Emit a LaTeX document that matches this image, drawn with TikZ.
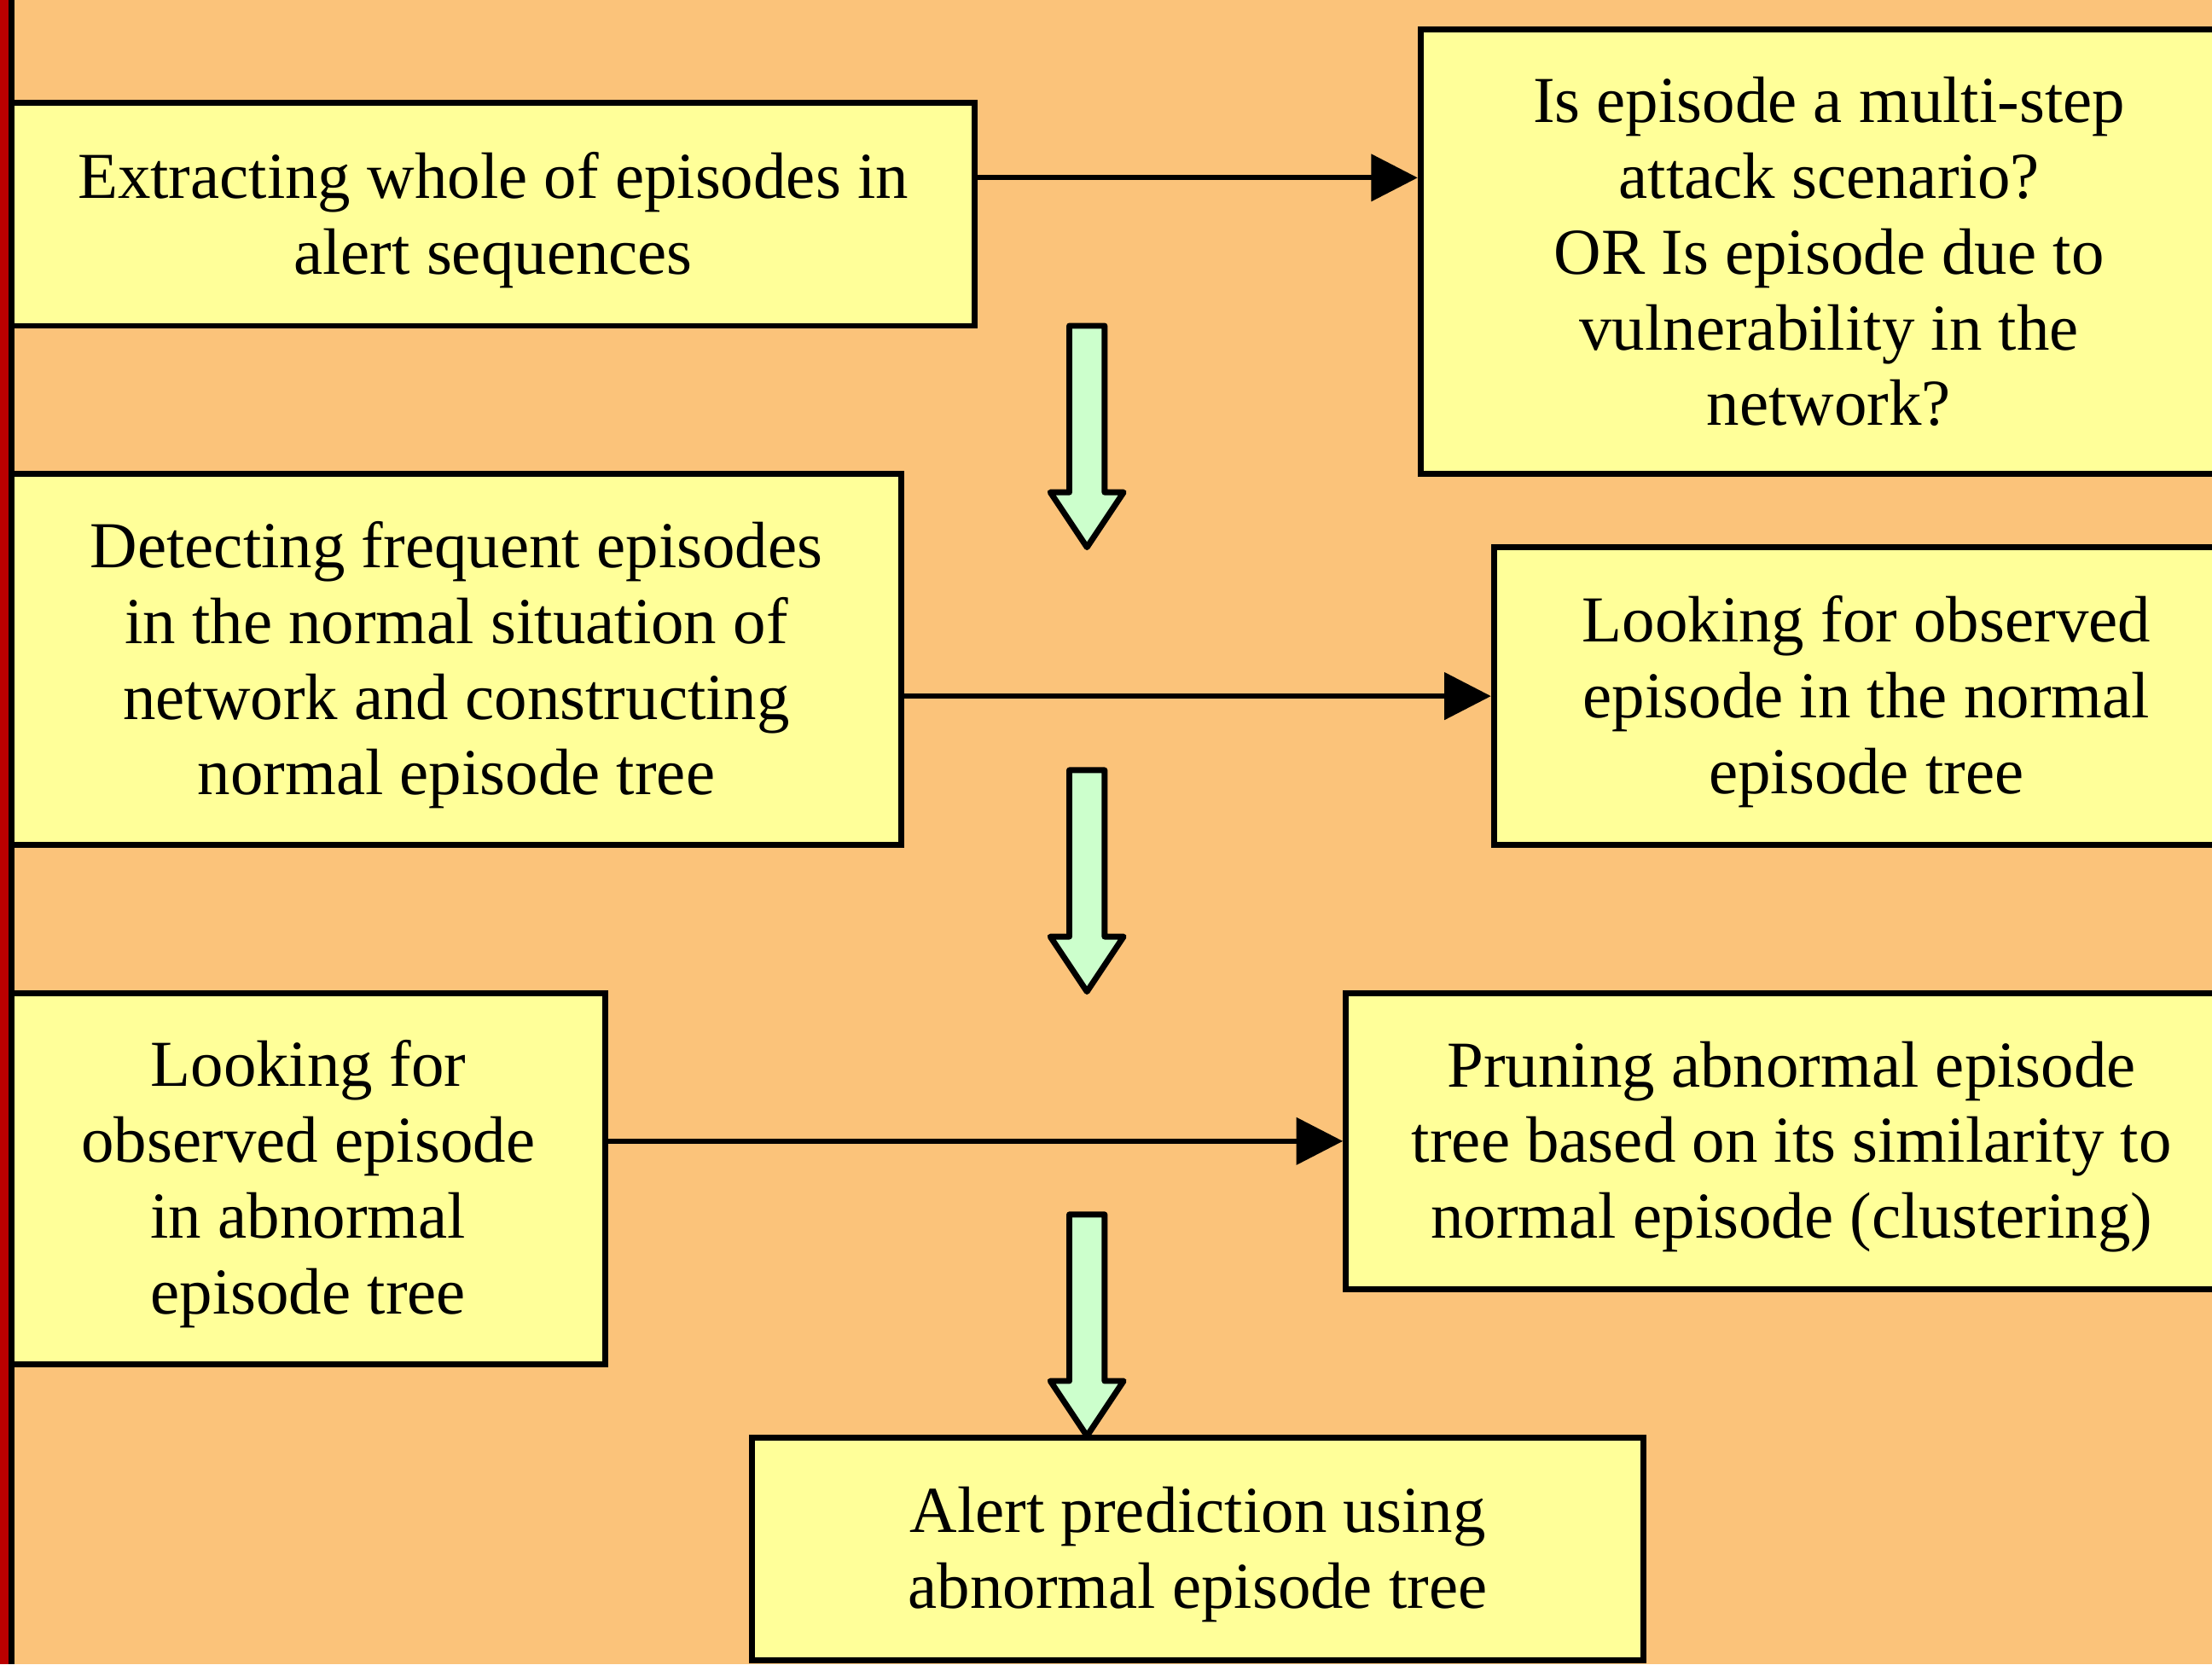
\documentclass[tikz,border=0pt]{standalone}
\usepackage{fontspec}
\setmainfont{Liberation Serif}
\usetikzlibrary{arrows.meta}
\definecolor{bg}{HTML}{FBC37A}
\definecolor{boxfill}{HTML}{FFFF99}
\definecolor{mint}{HTML}{CCFFCC}
\definecolor{redbar}{HTML}{BB0000}
\begin{document}
\begin{tikzpicture}[x=1pt,y=-1pt,
  stepbox/.style={draw=black, fill=boxfill, line width=4.2pt, inner sep=0pt},
  boxtext/.style={align=center, inner sep=0pt,
    font=\fontsize{46.5}{53.7}\selectfont},
  conn/.style={line width=3.6pt, -{Triangle[length=33pt,width=33pt]}},
  blockarrow/.style={draw=black, fill=mint, line width=4.2pt, line join=round},
  pics/downblock/.style={code={
    \draw[blockarrow] (-12.5,0) -- (12.5,0) -- (12.5,118) -- (26,118)
      -- (0,157) -- (-26,118) -- (-12.5,118) -- cycle;}}]
\useasboundingbox (0,0) rectangle (1568,1180);
\clip (0,0) rectangle (1568,1180);
\fill[bg] (0,0) rectangle (1568,1180);

% process boxes
\node[stepbox, minimum width=683pt, minimum height=158pt,
  label={[boxtext, yshift=-4pt]center:Extracting whole of episodes in\\alert sequences}]
  (b1) at (349.5,152) {};
\node[stepbox, minimum width=579pt, minimum height=315pt,
  label={[boxtext]center:Is episode a multi-step\\attack scenario?\\OR Is episode due to\\vulnerability in the\\network?}]
  (b2) at (1296.5,178.5) {};
\node[stepbox, minimum width=631pt, minimum height=263pt,
  label={[boxtext, yshift=-4pt]center:Detecting frequent episodes\\in the normal situation of\\network and constructing\\normal episode tree}]
  (b3) at (323.5,467.5) {};
\node[stepbox, minimum width=528pt, minimum height=211pt,
  label={[boxtext, yshift=-4pt]center:Looking for observed\\episode in the normal\\episode tree}]
  (b4) at (1323,493.5) {};
\node[stepbox, minimum width=421pt, minimum height=263pt,
  label={[boxtext, yshift=-4pt]center:Looking for\\observed episode\\in abnormal\\episode tree}]
  (b5) at (218.5,835.5) {};
\node[stepbox, minimum width=632pt, minimum height=210pt,
  label={[boxtext, yshift=-4pt]center:Pruning abnormal episode\\tree based on its similarity to\\normal episode (clustering)}]
  (b6) at (1270,809) {};
\node[stepbox, minimum width=632pt, minimum height=158pt,
  label={[boxtext, yshift=-4pt]center:Alert prediction using\\abnormal episode tree}]
  (b7) at (849,1098) {};

% horizontal connectors
\draw[conn] (b1.east |- 0,126) -- (b2.west |- 0,126);
\draw[conn] (b3.east |- b4.west) -- (b4.west);
\draw[conn] (b5.east |- b6.west) -- (b6.west);

% block arrows down the middle
\coordinate (a1) at (770.5,231);
\coordinate (a2) at (770.5,546);
\coordinate (a3) at (770.5,861);
\pic at (a1) {downblock};
\pic at (a2) {downblock};
\pic at (a3) {downblock};

% left margin bars
\fill[redbar] (0,0) rectangle (6,1180);
\fill[black] (6,0) rectangle (10,1180);
\end{tikzpicture}
\end{document}
